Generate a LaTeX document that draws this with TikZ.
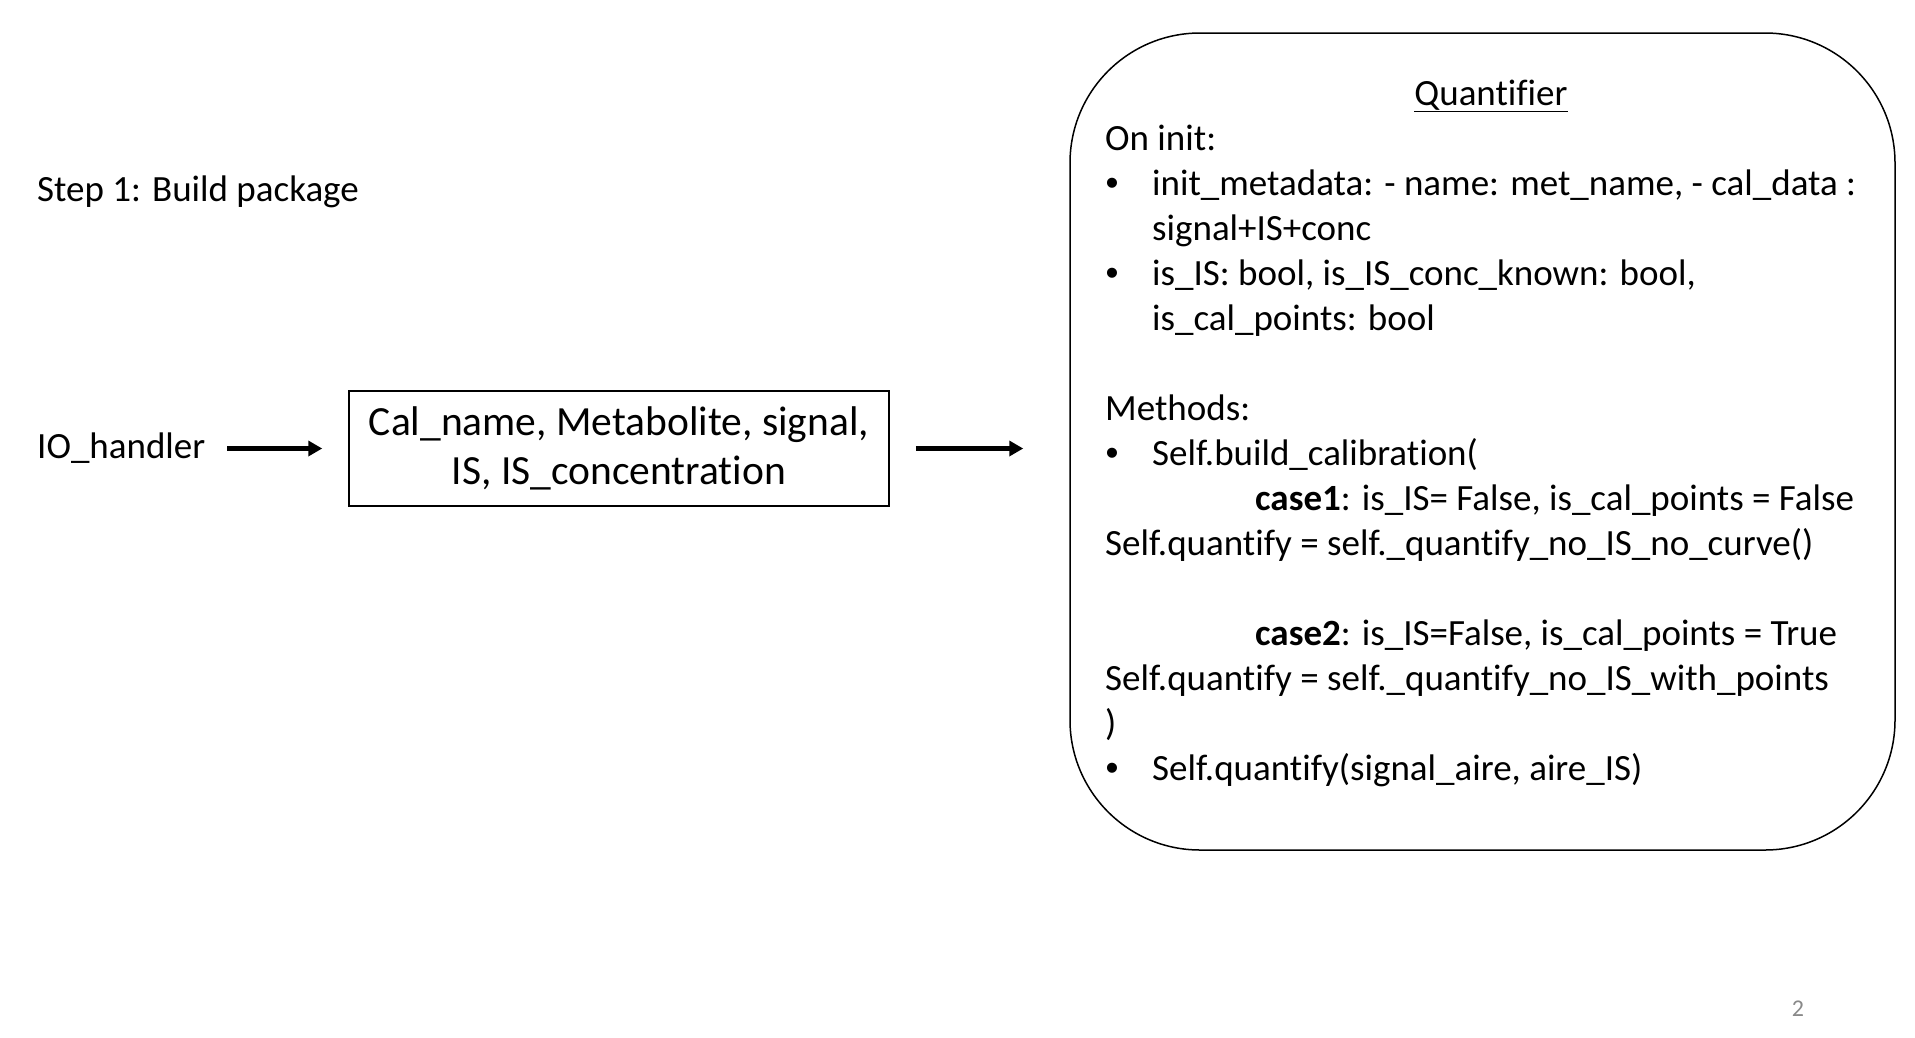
\documentclass[tikz,border=0pt]{standalone}
\usepackage{fontspec}
\setmainfont{Carlito}[Ligatures=NoCommon]
\newfontfamily\bulletfont{Liberation Sans}
\usetikzlibrary{arrows.meta}
\definecolor{pagegray}{RGB}{137,137,137}
\begin{document}
\begin{tikzpicture}[x=1pt,y=-1pt,
  txt/.style={anchor=base west, inner sep=0pt, font=\fontsize{37}{45}\selectfont},
  bul/.style={anchor=base, inner sep=0pt, font=\bulletfont\fontsize{37}{45}\selectfont},
  flow/.style={line width=5.5pt, -{Triangle[length=14pt,width=15pt]}},
  databox/.style={draw, line width=1.5pt, minimum width=540pt, minimum height=115pt, inner sep=0pt, align=center, font=\fontsize{41.5}{49.5}\selectfont},
  classbox/.style={draw, line width=1.5pt, minimum width=825pt, minimum height=817pt, rounded corners=130pt, inner sep=0pt}]
\useasboundingbox (0,0) rectangle (1915,1037);
\fill[white] (0,0) rectangle (1915,1037);

\node[txt] (step) at (37,201) {Step 1: Build package};
\node[txt] (io) at (37,458) {IO\_handler};
\node[databox] (data) at (619,448.5) {Cal\_name, Metabolite, signal,\\IS, IS\_concentration};
\node[classbox] (quant) at (1482.5,441.5) {};

\draw[flow] ([xshift=22pt]io.east |- data.west) -- ([xshift=-26pt]data.west);
\draw[flow] ([xshift=26pt]data.east) -- ([xshift=-46pt]data.east -| quant.west);

\node[txt, anchor=base] (title) at (1491,105) {\underline{Quantifier}};
\node[txt] (oninit) at (1105,150) {On init:};
\node[bul] (b1) at (1112,195) {\textbullet};
\node[txt] (l1) at (1152,195) {init\_metadata: - name: met\_name, - cal\_data :};
\node[txt] (l2) at (1152,240) {signal+IS+conc};
\node[bul] (b2) at (1112,285) {\textbullet};
\node[txt] (l3) at (1152,285) {is\_IS: bool, is\_IS\_conc\_known: bool,};
\node[txt] (l4) at (1152,330) {is\_cal\_points: bool};
\node[txt] (methods) at (1105,420) {Methods:};
\node[bul] (b3) at (1112,465) {\textbullet};
\node[txt] (l5) at (1152,465) {Self.build\_calibration(};
\node[txt] (l6) at (1255,510) {\textbf{case1}: is\_IS= False, is\_cal\_points = False};
\node[txt] (l7) at (1105,555) {Self.quantify = self.\_quantify\_no\_IS\_no\_curve()};
\node[txt] (l8) at (1255,645) {\textbf{case2}: is\_IS=False, is\_cal\_points = True};
\node[txt] (l9) at (1105,690) {Self.quantify = self.\_quantify\_no\_IS\_with\_points};
\node[txt] (l10) at (1105,735) {)};
\node[bul] (b4) at (1112,780) {\textbullet};
\node[txt] (l11) at (1152,780) {Self.quantify(signal\_aire, aire\_IS)};

\node[anchor=base, inner sep=0pt, text=pagegray, font=\fontsize{24}{28}\selectfont] (page) at (1798,1016) {2};
\end{tikzpicture}
\end{document}
